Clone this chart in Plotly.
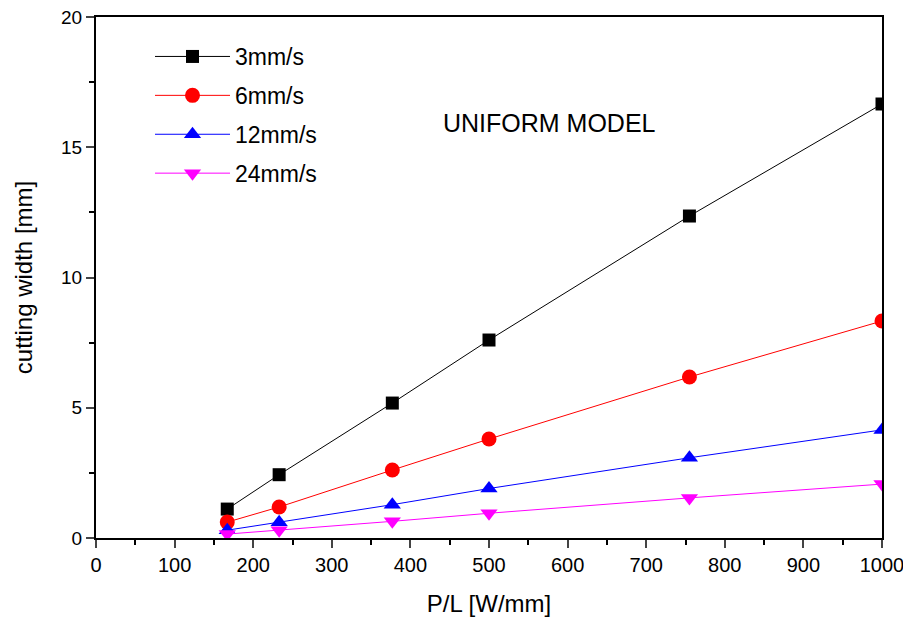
import plotly.graph_objects as go

x_vals = [167, 233, 377, 500, 755, 1000]
w_3 = [1.11, 2.43, 5.18, 7.6, 12.36, 16.66]
w_6 = [0.61, 1.19, 2.61, 3.8, 6.18, 8.33]
w_12 = [0.3, 0.6, 1.28, 1.9, 3.08, 4.15]
w_24 = [0.15, 0.3, 0.64, 0.95, 1.54, 2.07]
names = ["3mm/s", "6mm/s", "12mm/s", "24mm/s"]
x_ticks = list(range(0, 1001, 100))
y_ticks = [0, 5, 10, 15, 20]

series = [
    (names[0], w_3, "#000000", "square", 13),
    (names[1], w_6, "#ff0000", "circle", 15),
    (names[2], w_12, "#0000ff", "triangle-up", 15),
    (names[3], w_24, "#ff00ff", "triangle-down", 15),
]

L, R, T, B = 88, 37, 9, 98
W, H = 911, 628
pw = W - L - R
ph = H - T - B

fig = go.Figure()
for i, (nm, ys, col, sym, sz) in enumerate(series):
    fig.add_trace(go.Scatter(
        x=x_vals, y=ys, name=nm, mode="lines+markers",
        legendgroup=str(i),
        line=dict(color=col, width=1),
        marker=dict(color=col, symbol=sym, size=sz, line=dict(width=0)),
    ))

fig.add_annotation(text="UNIFORM MODEL",
                   x=(549 - 8 - L) / pw, y=(H - B - (107 - 8)) / ph,
                   xref="paper", yref="paper", showarrow=False,
                   font=dict(size=25, color="black"))

fig.update_layout(
    width=W, height=H,
    margin=dict(l=L, r=R, t=T, b=B, autoexpand=False),
    paper_bgcolor="white", plot_bgcolor="white",
    font=dict(family="Liberation Sans, Arial", color="black"),
    showlegend=True,
    legend=dict(x=(150 - 8 - L) / pw, y=(H - B - (35 - 8)) / ph, xanchor="left", yanchor="top",
                font=dict(size=23), itemwidth=75, tracegroupgap=6,
                bgcolor="rgba(0,0,0,0)"),
    xaxis=dict(range=[0, 1000], tickvals=x_ticks, ticks="outside", ticklen=8, tickwidth=2,
               showline=True, linewidth=2, linecolor="black", mirror=True,
               showgrid=False, zeroline=False, automargin=False,
               ticklabeloverflow="allow",
               minor=dict(dtick=50, ticks="outside", ticklen=5, tickwidth=2, tickcolor="black"),
               tickfont=dict(size=20),
               title=dict(text="P/L [W/mm]", font=dict(size=24), standoff=20)),
    yaxis=dict(range=[0, 20], tickvals=y_ticks, ticks="outside", ticklen=8, tickwidth=2,
               showline=True, linewidth=2, linecolor="black", mirror=True,
               showgrid=False, zeroline=False, automargin=False,
               ticklabeloverflow="allow",
               minor=dict(dtick=2.5, ticks="outside", ticklen=5, tickwidth=2, tickcolor="black"),
               tickfont=dict(size=19),
               title=dict(text="cutting width [mm]", font=dict(size=24), standoff=22)),
)

fig.write_html("out.html")
